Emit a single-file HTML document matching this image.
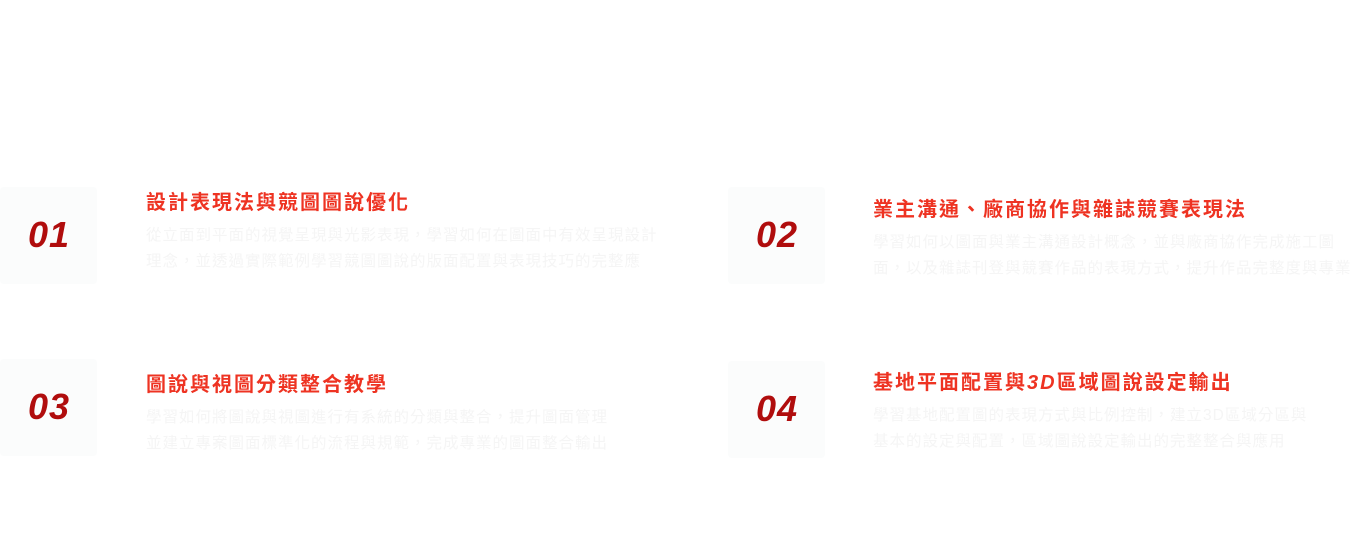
<!DOCTYPE html>
<html><head><meta charset="utf-8"><style>
body{margin:0;width:1366px;height:547px;background:#fff;position:relative;overflow:hidden;font-family:"Liberation Sans","Noto Sans CJK TC",sans-serif}
.box{position:absolute;width:97px;height:97px;background:#fbfcfc;border-radius:4px}
.num{position:absolute;font:italic bold 36px "Liberation Sans",sans-serif;color:#b00d0d;letter-spacing:1px}
.t{position:absolute;font-size:20px;font-weight:bold;color:#ee3322;white-space:nowrap;letter-spacing:2px}
.d{position:absolute;font-size:15.5px;color:#f5f5f5;line-height:26px;white-space:nowrap;letter-spacing:1px}
</style></head><body>
<div class="box" style="left:0;top:187px"></div><div class="num" style="left:28px;top:214px">01</div>
<div class="t" style="left:146px;top:186px">設計表現法與競圖圖說優化</div>
<div class="d" style="left:146px;top:223px">從立面到平面的視覺呈現與光影表現，學習如何在圖面中有效呈現設計<br>理念，並透過實際範例學習競圖圖說的版面配置與表現技巧的完整應</div>

<div class="box" style="left:728px;top:187px"></div><div class="num" style="left:756px;top:214px">02</div>
<div class="t" style="left:873px;top:193px">業主溝通、廠商協作與雜誌競賽表現法</div>
<div class="d" style="left:873px;top:230px">學習如何以圖面與業主溝通設計概念，並與廠商協作完成施工圖<br>面，以及雜誌刊登與競賽作品的表現方式，提升作品完整度與專業</div>

<div class="box" style="left:0;top:359px"></div><div class="num" style="left:28px;top:386px">03</div>
<div class="t" style="left:146px;top:368px">圖說與視圖分類整合教學</div>
<div class="d" style="left:146px;top:405px">學習如何將圖說與視圖進行有系統的分類與整合，提升圖面管理<br>並建立專案圖面標準化的流程與規範，完成專業的圖面整合輸出</div>

<div class="box" style="left:728px;top:361px"></div><div class="num" style="left:756px;top:388px">04</div>
<div class="t" style="left:873px;top:366px">基地平面配置與<i>3D</i>區域圖說設定輸出</div>
<div class="d" style="left:873px;top:403px">學習基地配置圖的表現方式與比例控制，建立3D區域分區與<br>基本的設定與配置，區域圖說設定輸出的完整整合與應用</div>
</body></html>
